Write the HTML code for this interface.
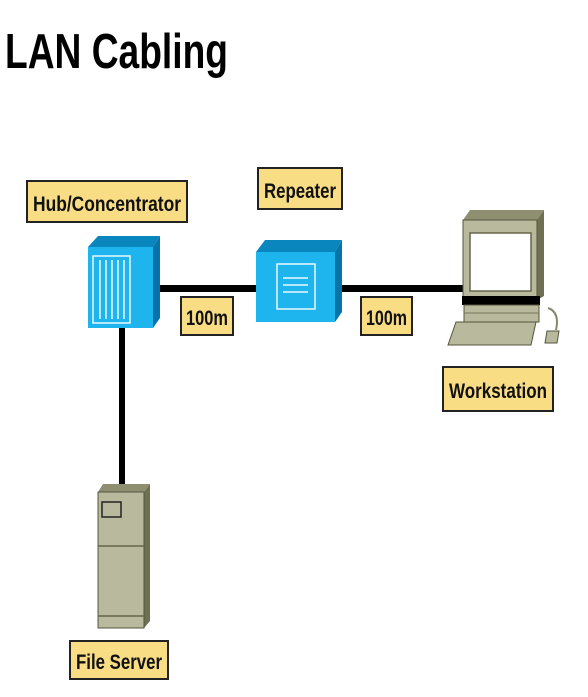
<!DOCTYPE html>
<html><head><meta charset="utf-8"><style>
html,body{margin:0;padding:0;background:#fff;width:588px;height:697px;overflow:hidden}
svg{display:block}
text{font-family:"Liberation Sans",sans-serif;font-weight:bold;fill:#111}
</style></head><body>
<svg width="588" height="697" viewBox="0 0 588 697" xmlns="http://www.w3.org/2000/svg">
<text x="5" y="68" font-size="49" textLength="223" lengthAdjust="spacingAndGlyphs" style="fill:#000">LAN Cabling</text>

<!-- cables -->
<rect x="150" y="285" width="110" height="7" fill="#000"/>
<rect x="335" y="285" width="130" height="7" fill="#000"/>
<rect x="119" y="320" width="6" height="168" fill="#000"/>

<!-- labels -->
<g stroke="#222" stroke-width="2" fill="#f8dd85">
<rect x="27" y="181" width="160" height="41"/>
<rect x="258" y="168" width="84" height="41"/>
<rect x="181" y="297" width="52" height="38"/>
<rect x="361" y="297" width="51" height="38"/>
<rect x="443" y="367" width="110" height="44"/>
<rect x="70" y="641" width="98" height="38"/>
</g>
<text x="33" y="211" font-size="21" textLength="148" lengthAdjust="spacingAndGlyphs">Hub/Concentrator</text>
<text x="264" y="198" font-size="21" textLength="72" lengthAdjust="spacingAndGlyphs">Repeater</text>
<text x="186" y="325" font-size="21" textLength="42" lengthAdjust="spacingAndGlyphs">100m</text>
<text x="366" y="325" font-size="21" textLength="41" lengthAdjust="spacingAndGlyphs">100m</text>
<text x="449" y="398" font-size="21" textLength="98" lengthAdjust="spacingAndGlyphs">Workstation</text>
<text x="76" y="669" font-size="21" textLength="86" lengthAdjust="spacingAndGlyphs">File Server</text>

<!-- hub -->
<polygon points="88,247 98,236 160,236 153,247" fill="#0a86bf"/>
<polygon points="153,247 160,236 160,318 153,328" fill="#0773a8"/>
<rect x="88" y="247" width="65" height="81" fill="#1eb4ee"/>
<rect x="93" y="256" width="37" height="67" fill="none" stroke="#e8f8ff" stroke-width="1.5"/>
<g stroke="#e8f8ff" stroke-width="1.5">
<line x1="100" y1="260" x2="100" y2="319"/><line x1="106" y1="260" x2="106" y2="319"/>
<line x1="112" y1="260" x2="112" y2="319"/><line x1="118" y1="260" x2="118" y2="319"/>
<line x1="124" y1="260" x2="124" y2="319"/>
</g>

<!-- repeater -->
<polygon points="256,252 265,240 342,240 335,252" fill="#0a86bf"/>
<polygon points="335,252 342,240 342,312 335,322" fill="#0773a8"/>
<rect x="256" y="252" width="79" height="70" fill="#1eb4ee"/>
<rect x="277" y="264" width="38" height="45" fill="none" stroke="#e8f8ff" stroke-width="1.5"/>
<g stroke="#e8f8ff" stroke-width="1.5">
<line x1="283" y1="278" x2="308" y2="278"/><line x1="283" y1="285" x2="308" y2="285"/><line x1="283" y1="292" x2="308" y2="292"/>
</g>

<!-- workstation -->
<polygon points="463,220 470,210 544,210 537,220" fill="#8e8e70"/>
<polygon points="537,220 544,210 544,296 537,300" fill="#6f6f52"/>
<rect x="463" y="220" width="74" height="78" fill="#b9b99d" stroke="#55553f" stroke-width="1"/>
<rect x="470" y="233" width="61" height="58" fill="#fff" stroke="#66664c" stroke-width="1.5"/>
<rect x="462" y="296" width="78" height="9" fill="#000"/>
<rect x="464" y="305" width="75" height="17" fill="#b9b99d" stroke="#55553f" stroke-width="1"/>
<line x1="464" y1="313" x2="539" y2="313" stroke="#77775a"/>
<polygon points="456,322 536,322 531,345 448,345" fill="#b9b99d" stroke="#55553f" stroke-width="1"/>
<path d="M548,308 Q560,312 556,330" fill="none" stroke="#88886c" stroke-width="2"/>
<polygon points="547,331 559,331 557,343 545,343" fill="#b9b99d" stroke="#55553f" stroke-width="1"/>

<!-- server -->
<polygon points="98,492 103,484 150,484 144,492" fill="#8e8e70"/>
<polygon points="144,492 150,484 150,621 144,628" fill="#6f6f52"/>
<rect x="98" y="492" width="46" height="136" fill="#b9b99d" stroke="#55553f" stroke-width="1"/>
<rect x="102" y="502" width="19" height="15" fill="#b9b99d" stroke="#222" stroke-width="1.5"/>
<line x1="98" y1="546" x2="144" y2="546" stroke="#66664c" stroke-width="1.5"/>
<line x1="98" y1="616" x2="144" y2="616" stroke="#66664c" stroke-width="1.5"/>
</svg>
</body></html>
